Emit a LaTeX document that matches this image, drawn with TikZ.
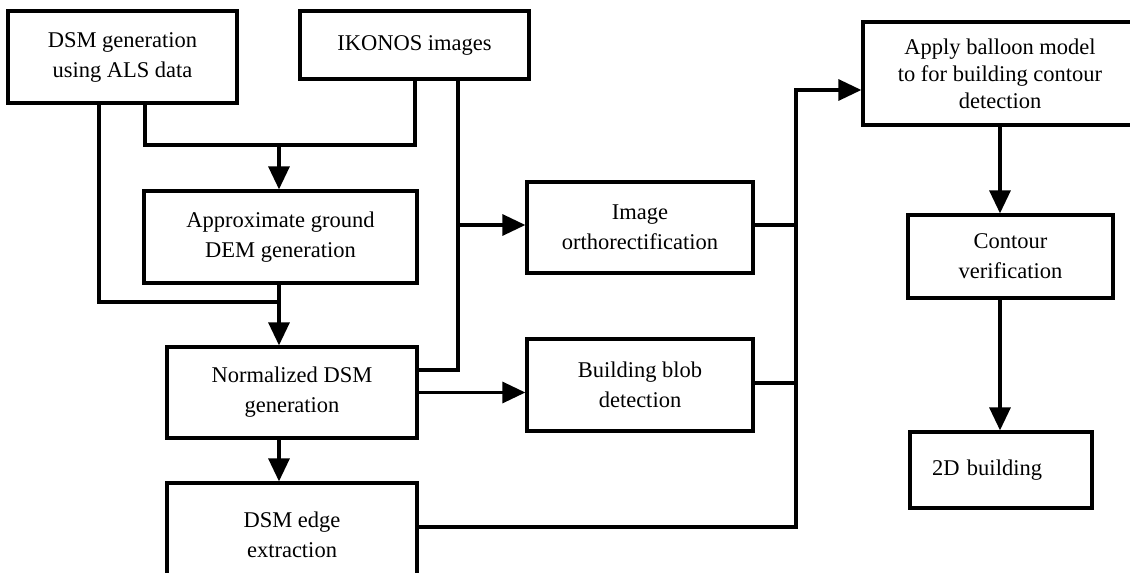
\documentclass[tikz,border=0pt]{standalone}
\usepackage{fontspec}
\setmainfont{Liberation Serif}
\usepackage{tikz}
\usetikzlibrary{arrows.meta}
\tikzset{
    block/.style={draw=black, line width=3.3pt, rectangle, align=center, inner sep=0pt,
        font=\fontsize{22.5}{30}\selectfont},
    flowline/.style={draw=black, line width=3.3pt},
    flowarrow/.style={draw=black, line width=3.3pt,
        -{Triangle[length=23pt,width=21pt]}}
}
\begin{document}
\begin{tikzpicture}[x=1pt,y=-1pt]
\useasboundingbox (0,0) rectangle (1130,573);
\clip (0,0) rectangle (1130,573);
\node[style={block}, minimum width=229, minimum height=92]
  (als) at (122.5,57) {DSM generation\\using ALS data};
\node[style={block}, minimum width=229, minimum height=68]
  (ikonos) at (414.5,45) {IKONOS images};
\node[style={block}, minimum width=273, minimum height=92]
  (dem) at (280.5,237) {Approximate ground\\DEM generation};
\node[style={block}, minimum width=250, minimum height=91]
  (ndsm) at (292,392.5) {Normalized DSM\\generation};
\node[style={block}, minimum width=250, minimum height=104]
  (edge) at (292,535) {DSM edge\\extraction};
\node[style={block}, minimum width=226, minimum height=91]
  (ortho) at (640,227.5) {Image\\orthorectification};
\node[style={block}, minimum width=226, minimum height=92]
  (blob) at (640,385) {Building blob\\detection};
\node[style={block}, minimum width=274, minimum height=103, font=\fontsize{22.5}{27}\selectfont]
  (balloon) at (1000,73.5) {Apply balloon model\\to for building contour\\detection};
\node[style={block}, minimum width=205, minimum height=83]
  (contour) at (1010.5,256.5) {Contour\\verification};
\node[style={block}, minimum height=76, text width=138, align=left, inner xsep=22]
  (building) at (1001,470) {2D building};

\coordinate (demin) at (279,145);
\coordinate (ndsmin) at (279,302);
\coordinate (ikonosbus) at (458,225);
\coordinate (outbus) at (796,90);

\draw[style={flowline}]
  ([xshift=-23.5pt]als.south) |- (ndsmin);
\draw[style={flowline}]
  ([xshift=22.5pt]als.south) |- (demin) -| ([xshift=0.5pt]ikonos.south);
\draw[style={flowarrow}] (demin) -- (demin |- dem.north);
\draw[style={flowarrow}] (dem.south -| ndsmin) -- (ndsmin |- ndsm.north);
\draw[style={flowline}]
  ([xshift=43.5pt]ikonos.south) |- ([yshift=22.5pt]ndsm.east);
\draw[style={flowarrow}] (ikonosbus) -- (ikonosbus -| ortho.west);
\draw[style={flowarrow}] (ndsm.east) -- (ndsm.east -| blob.west);
\draw[style={flowarrow}] (ndsm.south -| ndsmin) -- (ndsmin |- edge.north);
\draw[style={flowline}] ([yshift=2.5pt]ortho.east) -- ([yshift=2.5pt]ortho.east -| outbus);
\draw[style={flowline}] ([yshift=2pt]blob.east) -- ([yshift=2pt]blob.east -| outbus);
\draw[style={flowarrow}]
  ([yshift=8pt]edge.east) -| (outbus) -- (outbus -| balloon.west);
\draw[style={flowarrow}] (balloon.south) -- (balloon.south |- contour.north);
\draw[style={flowarrow}] (contour.south -| balloon.south) -- (balloon.south |- building.north);
\end{tikzpicture}
\end{document}
